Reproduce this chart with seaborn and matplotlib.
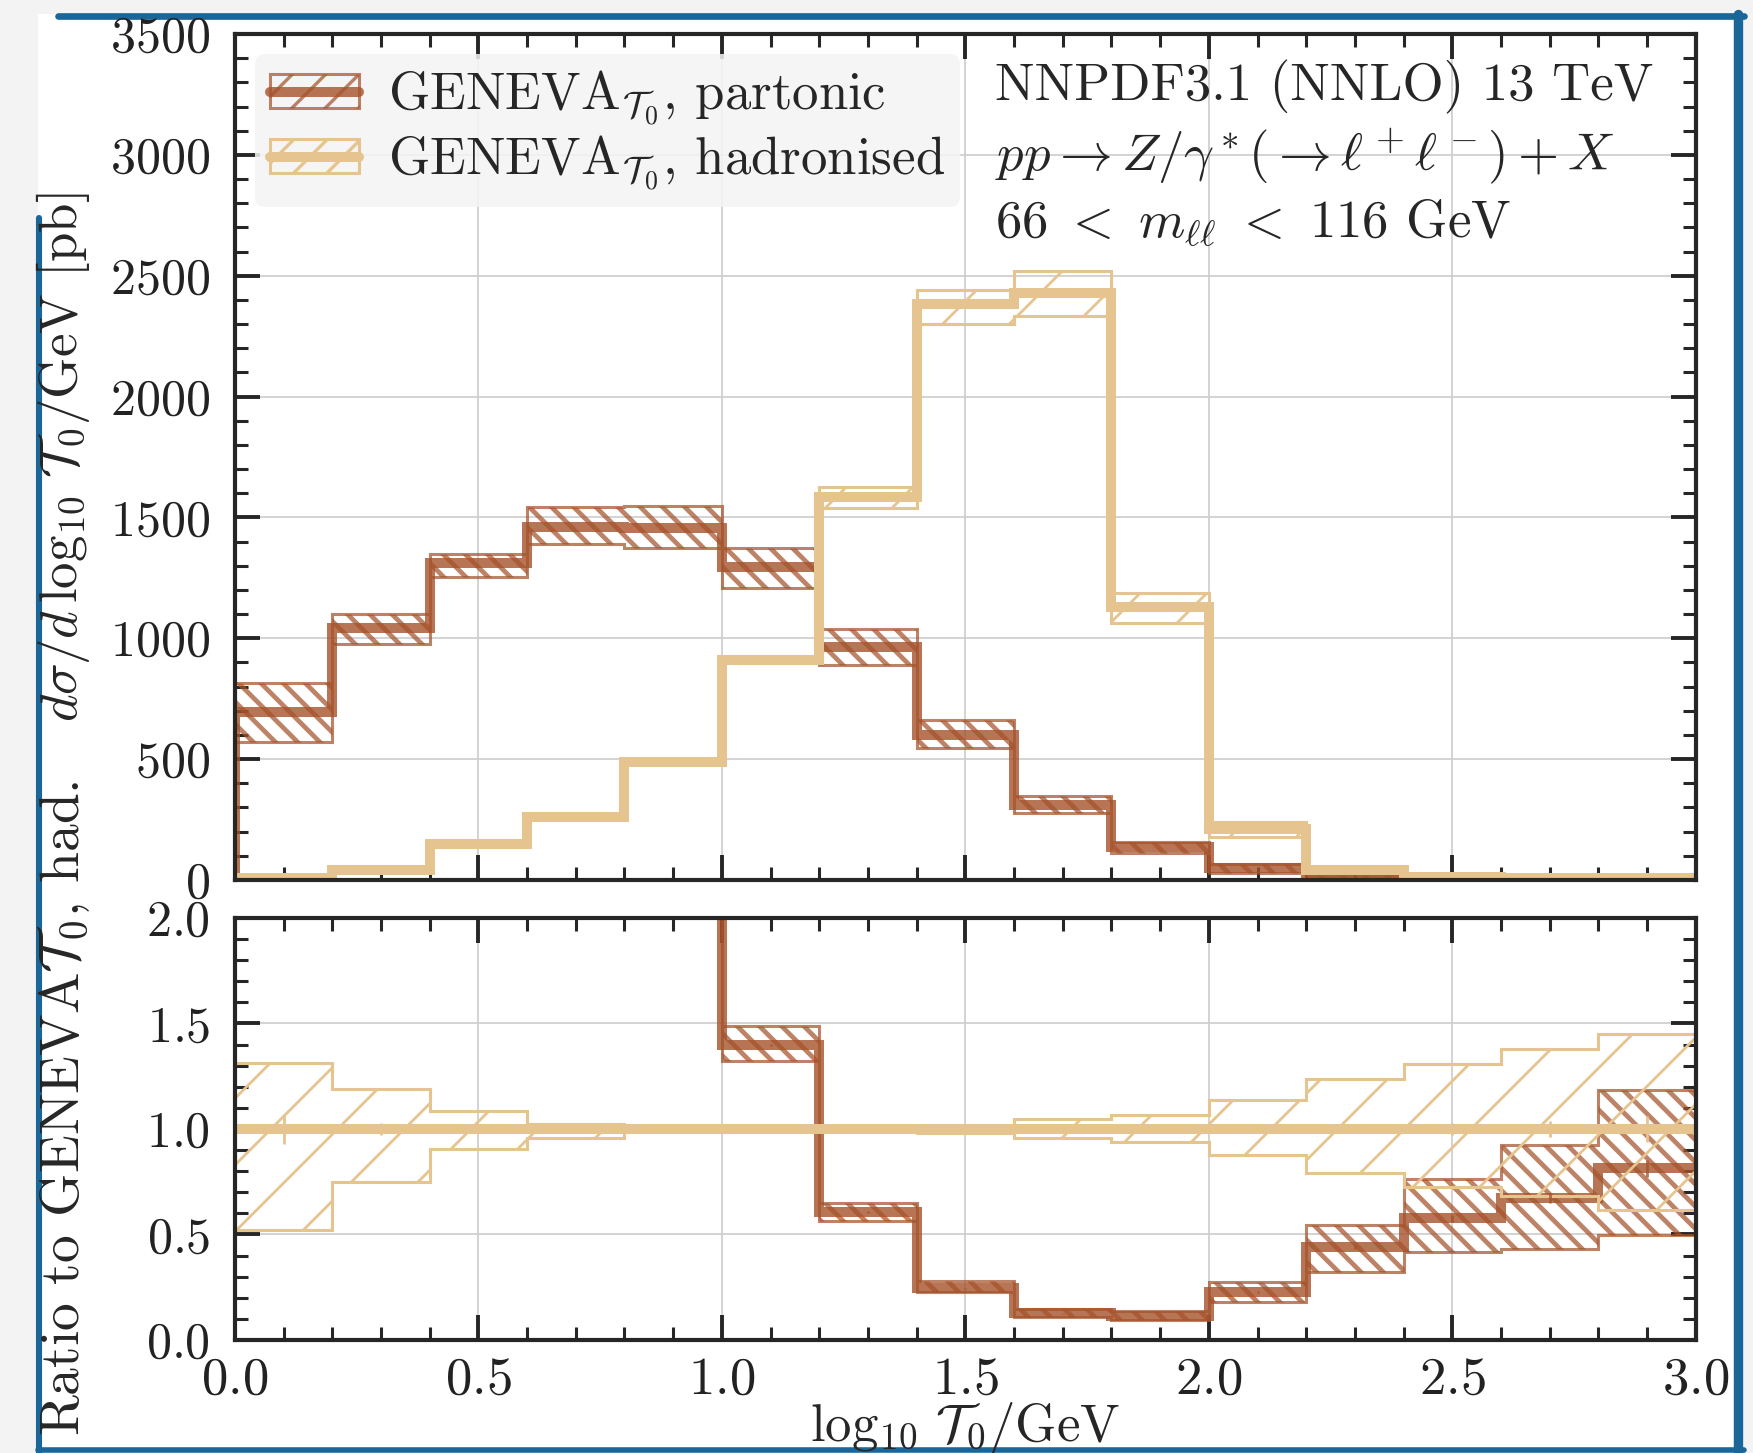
import matplotlib
matplotlib.use("Agg")
import matplotlib.pyplot as plt
import seaborn as sns
from matplotlib.patches import Patch, Rectangle
from matplotlib.lines import Line2D
from matplotlib.ticker import MultipleLocator
from matplotlib.legend_handler import HandlerTuple

# bins in log10(T0/GeV)
bin_edges = [0.0, 0.2, 0.4, 0.6, 0.8, 1.0, 1.2, 1.4, 1.6, 1.8, 2.0, 2.2, 2.4, 2.6, 2.8, 3.0]
bin_centres = [0.1, 0.3, 0.5, 0.7, 0.9, 1.1, 1.3, 1.5, 1.7, 1.9, 2.1, 2.3, 2.5, 2.7, 2.9]

# top panel, d sigma / d log10 T0 [pb]
parton_xs = [696, 1044, 1310, 1462, 1455, 1296, 965, 600, 310, 138, 48, 14, 7, 6, 5]
parton_xs_hi = [816, 1099, 1349, 1542, 1547, 1372, 1037, 662, 348, 158, 66, 20, 10, 9, 8]
parton_xs_lo = [572, 975, 1255, 1389, 1375, 1207, 890, 545, 276, 110, 30, 9, 4, 3, 3]
had_xs = [10, 41, 148, 262, 490, 910, 1586, 2381, 2427, 1128, 211, 41, 12, 9, 7]
had_xs_hi = [14, 48, 160, 270, 495, 920, 1625, 2440, 2520, 1188, 241, 48, 15, 12, 10]
had_xs_lo = [6, 34, 136, 254, 485, 900, 1538, 2300, 2335, 1063, 179, 34, 9, 6, 4]

# bottom panel, ratio to hadronised
had_ratio = [1.0] * 15
had_ratio_hi = [1.313, 1.191, 1.085, 1.024, 1.012, 1.008, 1.01, 1.02, 1.045, 1.064, 1.136, 1.235, 1.310, 1.378, 1.448]
had_ratio_lo = [0.522, 0.751, 0.907, 0.958, 0.988, 0.992, 0.99, 0.98, 0.955, 0.94, 0.878, 0.792, 0.726, 0.68, 0.618]
had_ratio_stat = [0.07, 0.03, 0.01, 0.005, 0.003, 0.002, 0.002, 0.002, 0.003, 0.005, 0.01, 0.02, 0.03, 0.04, 0.06]
parton_ratio = [69.6, 25.5, 8.85, 5.58, 2.97, 1.40, 0.605, 0.245, 0.127, 0.115, 0.227, 0.441, 0.576, 0.671, 0.813]
parton_ratio_hi = [80, 28, 9.5, 6.0, 3.2, 1.49, 0.649, 0.278, 0.145, 0.136, 0.273, 0.545, 0.765, 0.923, 1.187]
parton_ratio_lo = [60, 23, 8.2, 5.2, 2.8, 1.32, 0.564, 0.227, 0.109, 0.096, 0.182, 0.323, 0.418, 0.43, 0.497]
parton_ratio_stat = [0, 0, 0, 0, 0, 0.005, 0.005, 0.003, 0.002, 0.003, 0.005, 0.01, 0.015, 0.02, 0.04]

label_parton = r"GENEVA$_{\mathcal{T}_0}$, partonic"
label_had = r"GENEVA$_{\mathcal{T}_0}$, hadronised"

PARTON_LINE = (0.647, 0.325, 0.169, 0.8)
PARTON_EDGE = (0.647, 0.325, 0.169, 0.72)
TAN = (0.898, 0.769, 0.565, 1.0)
FS = 19

sns.set_theme(style="ticks")
plt.rcParams.update({
    "font.family": "serif",
    "font.serif": ["cmr10", "DejaVu Serif"],
    "mathtext.fontset": "cm",
    "axes.formatter.use_mathtext": True,
    "axes.unicode_minus": False,
    "font.size": FS,
    "axes.edgecolor": "#262626",
    "axes.linewidth": 1.5,
    "grid.color": "#cccccc",
    "grid.linewidth": 0.6,
    "hatch.linewidth": 1.2,
})

fig = plt.figure(figsize=(8.765, 7.265), dpi=200, facecolor="#f3f3f3")

# slide frame
fig.add_artist(Rectangle((0.0217, 0.0), 0.9732, 0.9904, transform=fig.transFigure,
                         facecolor="white", edgecolor="none", zorder=-5))
blue = "#1a6699"
fig.add_artist(Line2D([0.033, 0.9949], [0.9892, 0.9892], transform=fig.transFigure, color=blue, lw=2.4, zorder=-4))
fig.add_artist(Line2D([0.9915, 0.9915], [0.0, 0.9904], transform=fig.transFigure, color=blue, lw=3.4, zorder=-4))
fig.add_artist(Line2D([0.0222, 0.0222], [0.0, 0.85], transform=fig.transFigure, color=blue, lw=2.2, zorder=-4))
fig.add_artist(Line2D([0.0217, 0.9949], [0.0018, 0.0018], transform=fig.transFigure, color=blue, lw=2.0, zorder=-4))

ax = fig.add_axes([0.134, 0.3944, 0.8334, 0.5822])
axr = fig.add_axes([0.134, 0.0778, 0.8334, 0.2904])


def band(a, lo, hi, color, hatch, hlw):
    with plt.rc_context({"hatch.linewidth": hlw}):
        p = a.stairs(hi, bin_edges, baseline=lo, fill=True, facecolor="none",
                     edgecolor=color, hatch=hatch, linewidth=1.1)
    if hasattr(p, "set_hatch_linewidth"):
        p.set_hatch_linewidth(hlw)
    return p


# top panel
band(ax, parton_xs_lo, parton_xs_hi, PARTON_EDGE, "\\\\\\", 1.7)
ax.stairs(parton_xs, bin_edges, baseline=0, color=PARTON_LINE, linewidth=3.6)
band(ax, had_xs_lo, had_xs_hi, TAN, "/", 1.0)
ax.stairs(had_xs, bin_edges, baseline=0, color=TAN, linewidth=3.6)

# ratio panel
band(axr, parton_ratio_lo, parton_ratio_hi, PARTON_EDGE, "\\\\\\", 1.7)
axr.stairs(parton_ratio, bin_edges, baseline=None, color=PARTON_LINE, linewidth=3.6)
axr.errorbar(bin_centres, parton_ratio, yerr=parton_ratio_stat, fmt="none",
             ecolor=PARTON_LINE, elinewidth=1.0)
band(axr, had_ratio_lo, had_ratio_hi, TAN, "/", 1.0)
axr.stairs(had_ratio, bin_edges, baseline=None, color=TAN, linewidth=3.6)
axr.errorbar(bin_centres, had_ratio, yerr=had_ratio_stat, fmt="none",
             ecolor=TAN, elinewidth=1.0)

for a in (ax, axr):
    a.set_xlim(0, 3.0)
    a.xaxis.set_major_locator(MultipleLocator(0.5))
    a.xaxis.set_minor_locator(MultipleLocator(0.1))
    a.grid(True, which="major")
    a.set_axisbelow(True)
    a.tick_params(which="both", direction="in", top=True, right=True, colors="#262626",
                  labelcolor="#222222", labelsize=FS)
    a.tick_params(axis="y", labelsize=18)
    a.tick_params(which="major", length=9, width=1.4, pad=9)
    a.tick_params(which="minor", length=4.8, width=1.1)
    for s in a.spines.values():
        s.set_linewidth(1.5)
axr.tick_params(axis="x", which="major", pad=6)

ax.set_ylim(0, 3500)
ax.yaxis.set_major_locator(MultipleLocator(500))
ax.yaxis.set_minor_locator(MultipleLocator(100))
ax.tick_params(labelbottom=False)

axr.set_ylim(0, 2.0)
axr.yaxis.set_major_locator(MultipleLocator(0.5))
axr.yaxis.set_minor_locator(MultipleLocator(0.1))

ax.set_ylabel(r"$d\sigma/d\,\log_{10}\,\mathcal{T}_0/\mathrm{GeV}$ [pb]", fontsize=19)
ax.yaxis.set_label_coords(-0.098, 0.5)
axr.set_ylabel(r"Ratio to GENEVA$\mathcal{T}_0$, had.", fontsize=20)
axr.yaxis.set_label_coords(-0.098, 0.55)
axr.set_xlabel(r"$\log_{10}\,\mathcal{T}_0/\mathrm{GeV}$", fontsize=FS)
axr.xaxis.set_label_coords(0.5, -0.142)

handles = [
    (Patch(facecolor="none", edgecolor=PARTON_EDGE, hatch="//", linewidth=1.1),
     Line2D([], [], color=PARTON_LINE, lw=3.6)),
    (Patch(facecolor="none", edgecolor=TAN, hatch="//", linewidth=1.1),
     Line2D([], [], color=TAN, lw=3.6)),
]
leg = ax.legend(handles, [label_parton, label_had], loc="upper left",
                bbox_to_anchor=(0.0137, 0.976), borderaxespad=0, fontsize=FS,
                handler_map={tuple: HandlerTuple(ndivide=1)},
                handlelength=1.7, handleheight=0.6, labelspacing=0.13,
                handletextpad=0.55, borderpad=0.28, frameon=True, fancybox=True,
                facecolor="#f4f4f4", edgecolor="none", framealpha=0.85)

ax.text(0.52, 0.937, "NNPDF3.1 (NNLO) 13 TeV", transform=ax.transAxes, fontsize=FS, va="center")
ax.text(0.52, 0.855, r"$pp \to Z/\gamma^*(\to \ell^+\ell^-) + X$", transform=ax.transAxes,
        fontsize=FS, va="center")
ax.text(0.52, 0.776, r"$66\ <\ m_{\ell\ell}\ <\ 116$ GeV", transform=ax.transAxes, fontsize=FS, va="center")

fig.savefig("out.png", dpi=200, facecolor=fig.get_facecolor())
